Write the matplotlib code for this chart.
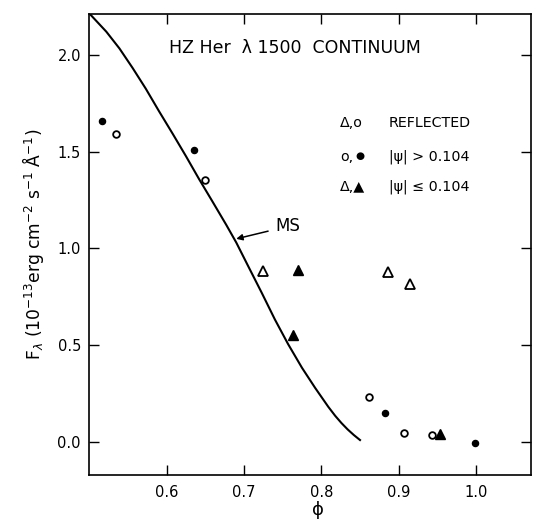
import matplotlib
matplotlib.use("Agg")
import matplotlib.pyplot as plt

# MS model curve
ms_phase = [0.502, 0.522, 0.539, 0.556, 0.573, 0.590, 0.608, 0.625, 0.642, 0.659,
            0.677, 0.690, 0.705, 0.723, 0.740, 0.757, 0.775, 0.792, 0.809, 0.818,
            0.826, 0.834, 0.842, 0.850]
ms_flux = [2.209, 2.123, 2.036, 1.935, 1.828, 1.712, 1.593, 1.478, 1.359, 1.245,
           1.123, 1.031, 0.912, 0.770, 0.632, 0.505, 0.382, 0.278, 0.180, 0.133,
           0.096, 0.063, 0.034, 0.008]

# filled circles: |psi| > 0.104
fc_phase = [0.516, 0.636, 0.882, 0.999]
fc_flux = [1.662, 1.510, 0.147, -0.008]

# open circles: reflected, |psi| > 0.104
oc_phase = [0.535, 0.649, 0.861, 0.907, 0.943]
oc_flux = [1.594, 1.356, 0.233, 0.044, 0.035]

# open triangles: reflected, |psi| <= 0.104
ot_phase = [0.724, 0.886, 0.914]
ot_flux = [0.881, 0.878, 0.815]

# filled triangles: |psi| <= 0.104
ft_phase = [0.770, 0.764, 0.953]
ft_flux = [0.891, 0.553, 0.040]

xticks = [0.6, 0.7, 0.8, 0.9, 1.0]
yticks = [0.0, 0.5, 1.0, 1.5, 2.0]

fig = plt.figure(figsize=(5.33, 5.19), dpi=100)
ax = fig.add_axes([0.1675, 0.0848, 0.8287, 0.8888])

ax.plot(ms_phase, ms_flux, color="black", lw=1.5)
ax.plot(fc_phase, fc_flux, "o", ms=4.4, mfc="black", mec="black", ls="none")
ax.plot(oc_phase, oc_flux, "o", ms=4.8, mfc="white", mec="black", mew=1.3, ls="none")
ax.plot(ot_phase, ot_flux, "^", ms=7.2, mfc="white", mec="black", mew=1.3, ls="none")
ax.plot(ft_phase, ft_flux, "^", ms=7.2, mfc="black", mec="black", ls="none")

ax.set_xlim(0.5, 1.071)
ax.set_ylim(-0.173, 2.216)
ax.set_xticks(xticks)
ax.set_yticks(yticks)
ax.set_xticklabels(["%.1f" % v for v in xticks])
ax.set_yticklabels(["%.1f" % v for v in yticks])
ax.tick_params(direction="in", length=7.5, width=1, top=True, right=True,
               labelsize=10.5)
ax.tick_params(axis="x", pad=7)
ax.tick_params(axis="y", pad=6)
for s in ax.spines.values():
    s.set_linewidth(1.2)

ax.set_xlabel("\u03d5", fontsize=13, labelpad=1)
ax.xaxis.label.set_x(0.518)
ax.set_ylabel(r"F$_\lambda$ (10$^{-13}$erg cm$^{-2}$ s$^{-1}$ $\mathrm{\AA}^{-1}$)",
              fontsize=12.3, labelpad=8)

ax.text(0.180, 0.9265, "HZ Her  \u03bb 1500  CONTINUUM", transform=ax.transAxes,
        fontsize=12.5, ha="left", va="center")

# key (symbols and descriptions)
lx = 0.5676
ax.text(lx, 0.763, "\u0394,o", transform=ax.transAxes,
        fontsize=10.3, ha="left", va="center")
ax.text(lx + 0.110, 0.763, "REFLECTED", transform=ax.transAxes,
        fontsize=10.3, ha="left", va="center")
ax.text(lx, 0.690, "o,", transform=ax.transAxes,
        fontsize=10.3, ha="left", va="center")
ax.text(lx + 0.034, 0.691, "\u25cf", transform=ax.transAxes,
        fontsize=7.5, ha="left", va="center")
ax.text(lx + 0.110, 0.690, "|\u03c8| > 0.104", transform=ax.transAxes,
        fontsize=10.3, ha="left", va="center")
ax.text(lx, 0.624, "\u0394,\u25b2", transform=ax.transAxes,
        fontsize=10.3, ha="left", va="center")
ax.text(lx + 0.110, 0.624, "|\u03c8| \u2264 0.104", transform=ax.transAxes,
        fontsize=10.3, ha="left", va="center")

ax.annotate("MS", xy=(0.690, 1.05), xytext=(0.740, 1.114),
            fontsize=12, ha="left", va="center",
            arrowprops=dict(arrowstyle="-|>", color="black", lw=1.1,
                            shrinkA=3, shrinkB=0, mutation_scale=9))

fig.savefig("out.png", dpi=100)
